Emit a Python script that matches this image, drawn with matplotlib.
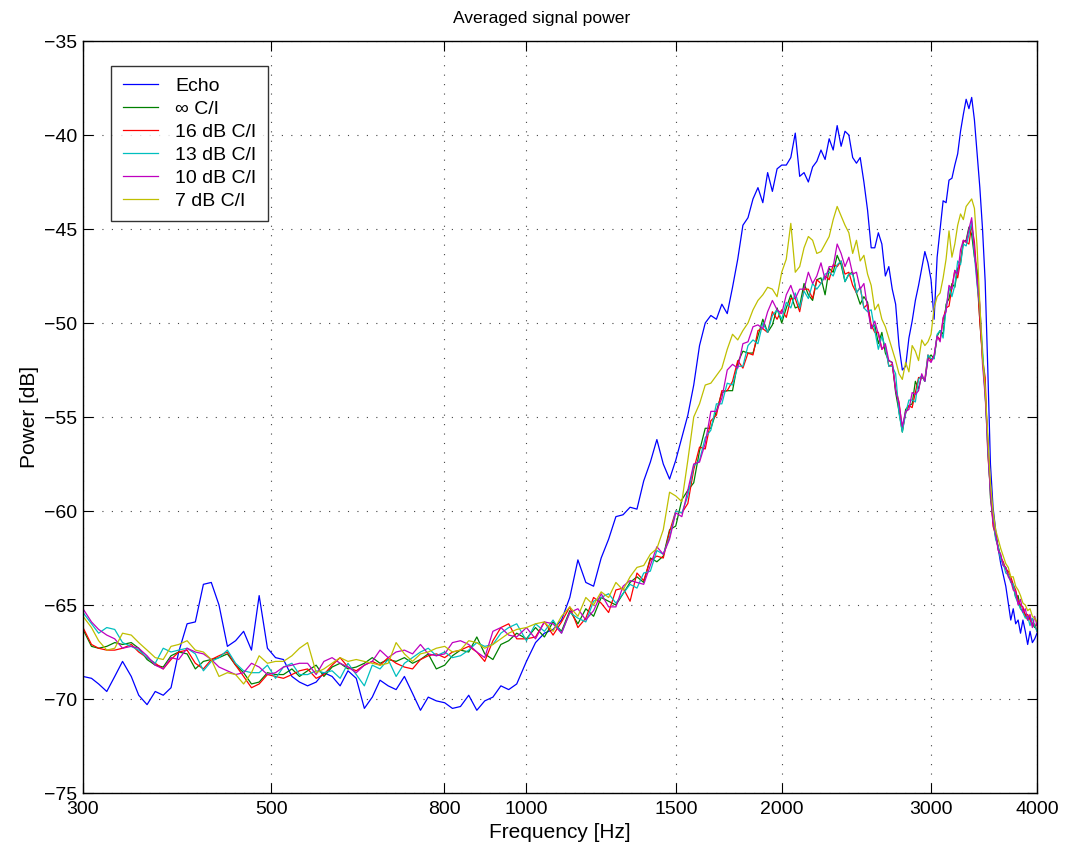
import numpy as np
import matplotlib
matplotlib.use("Agg")
import matplotlib.pyplot as plt
from matplotlib.ticker import FixedLocator, FixedFormatter, NullLocator

plt.rcParams['font.family'] = ['Liberation Sans', 'DejaVu Sans']

## frequency grid [Hz]
# low band, roughly log spaced
freq_lo = [300, 307, 313, 320, 327, 334, 342, 349, 357, 365,
           373, 381, 389, 398, 407, 416, 425, 434, 444, 454,
           464, 474, 484, 495, 506, 517, 529, 540, 552, 565,
           577, 590, 603, 616, 630, 644, 658, 672, 687, 702,
           718, 734, 750, 766, 783, 801, 818, 836, 855, 874,
           893, 913, 933, 953, 974]
# high band, every 25 Hz from 1000 to 4000
freq_hi = np.arange(1000, 4001, 25)

## averaged power [dB], low band
echo_lo = [-68.8, -68.9, -69.2, -69.6, -68.8, -68.0, -68.8, -69.8, -70.3, -69.6,
           -69.8, -69.4, -67.5, -66.0, -65.9, -63.9, -63.8, -65.0, -67.2, -66.9,
           -66.4, -67.4, -64.5, -67.3, -67.8, -67.9, -68.8, -69.1, -69.3, -69.1,
           -68.6, -68.8, -69.3, -68.5, -68.9, -70.5, -69.9, -69.0, -69.3, -69.5,
           -68.8, -69.7, -70.6, -69.9, -70.1, -70.2, -70.5, -70.4, -69.8, -70.6,
           -70.1, -69.9, -69.3, -69.5, -69.2]
inf_lo = [-66.3, -67.2, -67.3, -67.2, -67.0, -67.1, -67.0, -67.3, -67.9, -68.2,
          -68.3, -67.7, -67.5, -67.6, -68.4, -68.0, -67.9, -67.8, -67.6, -68.2,
          -68.6, -69.2, -69.1, -68.6, -68.7, -68.7, -68.4, -68.8, -68.5, -68.2,
          -68.8, -68.3, -68.1, -68.4, -68.3, -68.1, -67.8, -68.1, -67.9, -68.0,
          -67.8, -68.1, -67.9, -67.6, -68.4, -68.2, -67.7, -67.4, -67.5, -66.7,
          -67.6, -67.9, -67.1, -66.9, -66.5]
ci16_lo = [-66.2, -67.1, -67.3, -67.4, -67.4, -67.3, -67.1, -67.5, -67.8, -68.1,
           -68.4, -67.9, -67.5, -67.4, -68.1, -68.4, -67.9, -67.7, -67.5, -68.2,
           -68.8, -69.4, -69.2, -68.7, -68.8, -68.9, -68.7, -68.5, -68.4, -68.9,
           -68.7, -68.2, -67.8, -68.3, -68.5, -68.2, -68.0, -68.2, -67.8, -68.1,
           -68.3, -68.4, -67.9, -67.7, -67.6, -67.8, -67.5, -67.4, -67.2, -67.5,
           -68.0, -66.9, -66.2, -66.0, -66.8]
ci13_lo = [-65.4, -66.0, -66.5, -66.2, -66.3, -67.0, -67.2, -67.4, -67.8, -68.1,
           -67.3, -67.5, -67.4, -67.3, -67.6, -68.5, -68.0, -67.8, -67.4, -68.1,
           -68.5, -68.6, -68.6, -68.2, -68.9, -68.3, -68.1, -68.7, -68.7, -68.5,
           -68.6, -68.5, -68.9, -68.1, -68.7, -69.3, -68.2, -68.4, -67.9, -68.8,
           -68.1, -67.8, -67.5, -67.3, -67.7, -67.5, -67.8, -67.7, -67.4, -67.0,
           -67.2, -67.1, -66.5, -66.2, -66.0]
ci10_lo = [-65.2, -65.9, -66.3, -66.6, -66.8, -67.3, -67.2, -67.3, -67.7, -68.2,
           -68.4, -67.8, -67.9, -67.3, -67.5, -67.6, -67.9, -68.3, -68.5, -68.7,
           -68.6, -68.1, -68.3, -68.7, -68.6, -68.3, -68.2, -68.1, -68.1, -68.7,
           -68.0, -67.8, -68.1, -68.3, -68.6, -68.2, -68.0, -67.4, -67.8, -67.5,
           -67.4, -67.6, -67.1, -67.6, -67.7, -67.6, -67.0, -66.9, -67.1, -67.5,
           -67.8, -66.4, -66.2, -66.6, -66.7]
ci7_lo = [-65.6, -66.2, -66.9, -67.4, -67.3, -66.5, -66.6, -67.0, -67.4, -67.8,
          -67.9, -67.2, -67.1, -66.9, -67.4, -67.5, -67.9, -68.8, -68.6, -68.7,
          -69.2, -68.6, -67.7, -68.1, -68.0, -68.0, -67.7, -67.3, -67.0, -68.6,
          -68.4, -68.1, -67.8, -68.0, -67.9, -68.0, -68.1, -68.2, -68.1, -67.0,
          -67.6, -68.0, -67.6, -67.5, -67.3, -67.2, -67.5, -67.4, -66.9, -67.0,
          -67.3, -67.1, -66.8, -66.5, -66.3]

## averaged power [dB], high band
echo_hi = [-68.0, -67.0, -66.5, -66.3, -65.8, -64.6, -62.6, -63.8, -64.0, -62.5,
           -61.5, -60.3, -60.2, -59.8, -59.9, -58.4, -57.4, -56.2, -57.5, -58.3,
           -57.3, -56.1, -54.9, -53.3, -51.2, -50.0, -49.6, -49.8, -49.0, -49.5,
           -48.1, -46.6, -44.8, -44.4, -43.4, -42.8, -43.6, -42.0, -43.0, -41.8,
           -41.6, -41.6, -41.2, -39.9, -42.2, -42.0, -42.5, -41.7, -41.4, -40.8,
           -41.3, -40.2, -40.8, -39.5, -40.6, -39.8, -40.0, -41.2, -41.5, -41.2,
           -42.5, -44.0, -46.0, -46.0, -45.2, -45.8, -47.5, -47.0, -48.2, -49.0,
           -51.2, -52.5, -52.3, -50.8, -49.9, -48.8, -48.0, -47.1, -46.2, -46.8,
           -47.7, -49.8, -46.5, -45.0, -43.5, -43.6, -42.4, -42.3, -41.6, -41.0,
           -39.8, -38.9, -38.1, -38.6, -38.0, -39.2, -41.0, -42.8, -45.0, -47.8,
           -52.5, -57.5, -59.8, -61.0, -62.0, -62.8, -63.4, -64.0, -64.9, -65.8,
           -65.2, -66.0, -65.8, -66.5, -65.8, -66.4, -67.1, -66.4, -67.0, -66.8, -66.5]
inf_hi = [-66.8, -66.2, -66.7, -65.9, -66.4, -65.3, -66.0, -65.2, -65.6, -64.6,
          -64.8, -65.0, -64.4, -63.8, -63.5, -63.8, -62.5, -62.7, -62.4, -61.0,
          -60.8, -59.4, -58.9, -58.5, -56.8, -55.6, -55.6, -54.7, -53.7, -53.6,
          -53.6, -52.1, -51.5, -51.6, -51.6, -50.7, -49.8, -50.5, -50.1, -49.2,
          -50.0, -49.2, -48.5, -49.2, -49.1, -47.9, -48.5, -48.8, -47.7, -47.6,
          -48.5, -47.1, -47.3, -46.4, -46.9, -47.8, -47.4, -47.3, -48.4, -49.0,
          -48.6, -48.9, -50.3, -50.1, -51.1, -50.5, -51.6, -52.0, -52.1, -53.7,
          -54.7, -55.8, -54.6, -54.4, -54.3, -53.1, -53.5, -52.8, -53.1, -51.9,
          -51.7, -51.9, -50.7, -50.4, -50.6, -49.0, -48.7, -47.9, -48.1, -47.1,
          -46.8, -45.7, -45.6, -44.9, -45.3, -46.5, -47.2, -49.9, -51.7, -53.8,
          -56.2, -59.3, -60.5, -61.4, -61.9, -62.4, -62.9, -63.0, -63.4, -63.7,
          -64.0, -64.6, -64.5, -65.2, -65.3, -65.5, -65.8, -65.6, -66.0, -66.2, -66.0]
ci16_hi = [-66.8, -66.7, -65.9, -66.6, -65.9, -65.1, -66.2, -65.7, -64.6, -64.9,
           -65.4, -64.2, -64.1, -64.8, -63.3, -63.7, -62.6, -62.4, -62.5, -61.1,
           -60.0, -60.1, -59.6, -57.8, -56.6, -56.7, -55.2, -54.9, -53.6, -53.6,
           -53.1, -52.0, -52.4, -51.6, -51.7, -50.4, -50.3, -50.5, -49.4, -49.8,
           -49.3, -49.7, -48.7, -48.7, -49.4, -48.2, -48.2, -48.7, -47.7, -47.9,
           -47.5, -47.7, -46.9, -47.0, -46.7, -47.4, -47.3, -48.0, -48.4, -48.1,
           -49.2, -49.0, -50.1, -50.5, -50.5, -51.4, -51.2, -52.3, -52.2, -53.5,
           -54.2, -55.7, -54.8, -54.4, -54.5, -53.7, -52.9, -52.9, -53.0, -51.7,
           -52.0, -51.8, -50.7, -50.9, -49.8, -49.2, -49.1, -48.1, -47.2, -47.6,
           -46.7, -45.6, -45.7, -45.8, -44.8, -45.7, -47.7, -49.9, -51.9, -52.9,
           -57.0, -58.8, -60.8, -61.3, -62.0, -62.5, -62.7, -63.1, -63.2, -63.5,
           -63.9, -64.2, -64.8, -65.0, -65.1, -65.6, -65.5, -65.8, -66.1, -66.0, -66.4]
ci13_hi = [-66.9, -66.0, -66.4, -65.8, -66.5, -65.4, -65.7, -65.9, -64.8, -64.6,
           -64.4, -64.9, -64.4, -63.9, -64.1, -63.3, -63.2, -62.1, -62.3, -61.4,
           -60.0, -60.1, -59.2, -57.6, -57.3, -56.1, -55.7, -54.3, -54.3, -53.2,
           -53.3, -52.3, -52.3, -51.2, -50.9, -51.1, -50.0, -50.5, -49.6, -49.3,
           -49.8, -48.9, -49.2, -48.4, -49.2, -48.3, -48.7, -47.9, -48.2, -47.9,
           -47.4, -47.3, -47.5, -46.9, -46.7, -47.8, -47.4, -47.4, -48.4, -48.1,
           -49.2, -49.4, -49.3, -50.4, -51.4, -50.7, -51.3, -52.3, -52.3, -52.7,
           -54.8, -55.8, -54.8, -54.1, -54.1, -54.2, -53.0, -52.8, -53.1, -51.7,
           -51.9, -51.9, -50.6, -50.4, -50.8, -49.2, -48.1, -48.6, -48.0, -46.7,
           -46.9, -45.8, -45.9, -45.3, -44.6, -46.4, -48.0, -49.2, -51.4, -53.7,
           -56.8, -58.9, -60.4, -61.5, -61.9, -62.6, -62.8, -63.3, -63.4, -63.8,
           -63.9, -64.6, -64.9, -65.2, -65.4, -65.7, -65.6, -66.1, -65.7, -66.1, -66.4]
ci10_hi = [-66.2, -66.8, -65.9, -66.0, -66.5, -65.4, -65.2, -65.8, -65.3, -64.4,
           -65.1, -65.1, -64.0, -63.7, -63.8, -63.9, -62.9, -61.9, -62.3, -61.5,
           -60.1, -60.3, -58.9, -57.5, -57.4, -56.4, -54.7, -54.7, -54.0, -52.5,
           -52.2, -52.4, -51.1, -51.0, -50.2, -50.1, -50.3, -49.4, -48.8, -49.3,
           -49.5, -48.5, -48.0, -48.7, -48.2, -48.2, -47.3, -47.9, -47.5, -46.8,
           -47.7, -47.0, -47.0, -45.8, -46.3, -47.0, -46.5, -47.4, -47.3, -48.2,
           -47.9, -49.2, -50.3, -49.9, -50.6, -51.4, -51.1, -52.0, -52.1, -53.6,
           -54.3, -55.5, -54.7, -54.6, -53.7, -53.8, -53.6, -52.7, -53.1, -51.9,
           -52.1, -51.7, -50.7, -51.0, -49.7, -49.4, -48.0, -48.2, -47.2, -47.4,
           -46.1, -45.6, -45.7, -45.0, -44.4, -46.1, -47.8, -49.0, -52.2, -53.9,
           -56.6, -59.1, -60.6, -61.2, -62.1, -62.3, -62.9, -63.0, -63.5, -63.7,
           -64.2, -64.3, -65.0, -64.7, -65.4, -65.2, -65.8, -65.5, -66.2, -65.6, -66.1]
ci7_hi = [-66.2, -66.0, -65.9, -66.4, -65.6, -65.1, -65.6, -64.6, -65.0, -64.3,
          -64.6, -63.8, -64.2, -63.5, -63.0, -62.9, -62.3, -62.0, -61.0, -59.0,
          -59.2, -59.5, -57.3, -55.0, -54.3, -53.3, -53.2, -52.8, -52.4, -51.4,
          -50.6, -50.9, -50.4, -50.0, -49.3, -48.8, -48.5, -48.1, -48.2, -48.6,
          -47.3, -46.6, -44.7, -47.3, -47.0, -46.0, -45.4, -45.6, -46.3, -46.2,
          -45.8, -45.4, -44.5, -43.8, -44.3, -44.8, -45.2, -46.3, -45.6, -46.7,
          -46.4, -47.4, -48.0, -49.3, -49.0, -49.8, -50.2, -50.8, -51.4, -52.0,
          -52.7, -53.0, -52.1, -52.6, -51.2, -51.5, -52.0, -50.9, -51.2, -51.0,
          -50.6, -49.2, -48.6, -48.4, -47.6, -46.6, -45.1, -46.5, -45.8, -44.8,
          -44.2, -44.5, -43.8, -43.6, -43.4, -43.9, -46.0, -49.0, -51.8, -53.5,
          -56.0, -58.5, -60.0, -61.0, -61.5, -62.0, -62.4, -62.8, -63.0, -63.5,
          -63.5, -64.0, -64.2, -64.5, -64.9, -65.0, -65.3, -65.2, -65.6, -65.7, -65.9]

labels = ['Echo', '\u221e C/I', '16 dB C/I', '13 dB C/I', '10 dB C/I', '7 dB C/I']
colors = ['#0000ff', '#008000', '#ff0000', '#00bfbf', '#bf00bf', '#bfbf00']
xticks = [300, 500, 800, 1000, 1500, 2000, 3000, 4000]
yticks = [-75, -70, -65, -60, -55, -50, -45, -40, -35]

freq = np.concatenate([freq_lo, freq_hi])
series = [echo_lo + echo_hi, inf_lo + inf_hi, ci16_lo + ci16_hi,
          ci13_lo + ci13_hi, ci10_lo + ci10_hi, ci7_lo + ci7_hi]

fig = plt.figure(figsize=(10.7, 8.5), dpi=100)
ax = fig.add_axes([83/1070, 57/850, 954/1070, 752/850])

for s, lab, c in zip(series, labels, colors):
    ax.plot(freq, s, color=c, lw=0.9, label=lab)

ax.set_xscale('log')
ax.set_xlim(300, 4000)
ax.set_ylim(-75, -35)
ax.xaxis.set_major_locator(FixedLocator(xticks))
ax.xaxis.set_major_formatter(FixedFormatter([str(t) for t in xticks]))
ax.xaxis.set_minor_locator(NullLocator())
ax.set_yticks(yticks)

# grille pointillee facon matlab
ax.grid(True, color='#444444', linestyle=(0, (1, 7.5)), lw=0.8)
ax.tick_params(direction='in', length=7.2, width=0.8, top=True, right=True,
               labelsize=14)
ax.tick_params(axis='x', pad=6)
ax.tick_params(axis='y', pad=4)
for sp in ax.spines.values():
    sp.set_linewidth(1.0)

# titre centre sur la figure (comme matlab)
fig.text(542/1070, 1 - 18/850, 'Averaged signal power', fontsize=12.6,
         ha='center', va='center')
ax.set_xlabel('Frequency [Hz]', fontsize=15, labelpad=3)
ax.set_ylabel('Power [dB]', fontsize=15, labelpad=4)

leg = ax.legend(loc='upper left', bbox_to_anchor=(28/954, 1 - 25/752),
                fontsize=14, frameon=True, fancybox=False, edgecolor='black',
                handlelength=1.8, handletextpad=0.9, borderpad=0.6,
                labelspacing=0.27, borderaxespad=0)
leg.get_frame().set_linewidth(1.0)

fig.savefig('out.png', dpi=100)
